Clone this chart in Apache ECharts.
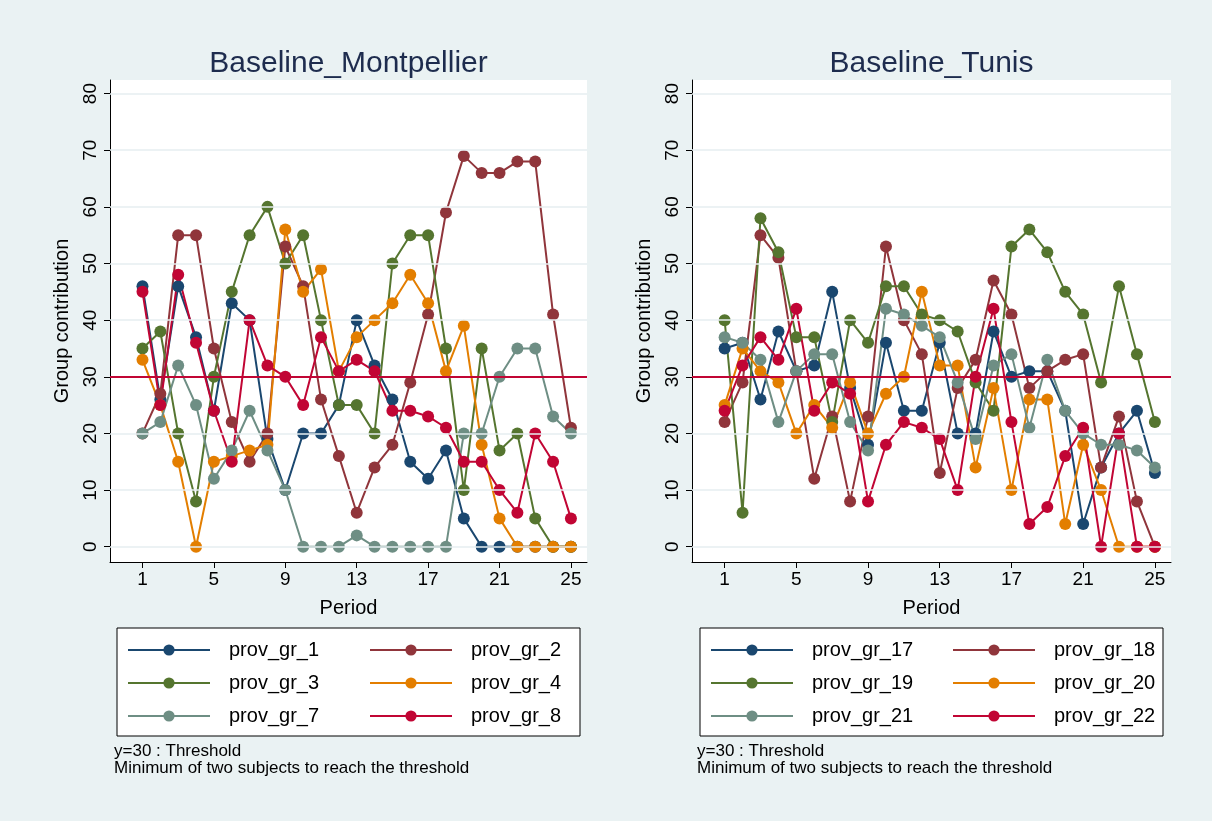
<!DOCTYPE html>
<html>
<head>
<meta charset="utf-8">
<script src="https://cdn.jsdelivr.net/npm/echarts@6/dist/echarts.min.js"></script>
<style>
  html, body { margin: 0; padding: 0; background: #eaf2f3; }
  #chart { width: 1212px; height: 821px; }
</style>
</head>
<body>
<div id="chart"></div>
<script>
// periods and tick marks
const periods = [1, 2, 3, 4, 5, 6, 7, 8, 9, 10, 11, 12, 13, 14, 15, 16, 17, 18, 19, 20, 21, 22, 23, 24, 25]
const xTicks = [1, 5, 9, 13, 17, 21, 25]
const yTicks = [0, 10, 20, 30, 40, 50, 60, 70, 80]
const threshold = 30

// Baseline_Montpellier
const montNames = ['prov_gr_1', 'prov_gr_2', 'prov_gr_3', 'prov_gr_4', 'prov_gr_7', 'prov_gr_8']
const gr1 = [46, 26, 46, 37, 24, 43, 40, 19, 10, 20, 20, 25, 40, 32, 26, 15, 12, 17, 5, 0, 0, 0, 0, 0, 0]
const gr2 = [20, 27, 55, 55, 35, 22, 15, 20, 53, 46, 26, 16, 6, 14, 18, 29, 41, 59, 69, 66, 66, 68, 68, 41, 21]
const gr3 = [35, 38, 20, 8, 30, 45, 55, 60, 50, 55, 40, 25, 25, 20, 50, 55, 55, 35, 10, 35, 17, 20, 5, 0, 0]
const gr4 = [33, 25, 15, 0, 15, 16, 17, 18, 56, 45, 49, 31, 37, 40, 43, 48, 43, 31, 39, 18, 5, 0, 0, 0, 0]
const gr7 = [20, 22, 32, 25, 12, 17, 24, 17, 10, 0, 0, 0, 2, 0, 0, 0, 0, 0, 20, 20, 30, 35, 35, 23, 20]
const gr8 = [45, 25, 48, 36, 24, 15, 40, 32, 30, 25, 37, 31, 33, 31, 24, 24, 23, 21, 15, 15, 10, 6, 20, 15, 5]

// Baseline_Tunis
const tunNames = ['prov_gr_17', 'prov_gr_18', 'prov_gr_19', 'prov_gr_20', 'prov_gr_21', 'prov_gr_22']
const gr17 = [35, 36, 26, 38, 31, 32, 45, 28, 18, 36, 24, 24, 36, 20, 20, 38, 30, 31, 31, 24, 4, 14, 20, 24, 13]
const gr18 = [22, 29, 55, 51, 31, 12, 23, 8, 23, 53, 40, 34, 13, 28, 33, 47, 41, 28, 31, 33, 34, 14, 23, 8, 0]
const gr19 = [40, 6, 58, 52, 37, 37, 22, 40, 36, 46, 46, 41, 40, 38, 29, 24, 53, 56, 52, 45, 41, 29, 46, 34, 22]
const gr20 = [25, 35, 31, 29, 20, 25, 21, 29, 20, 27, 30, 45, 32, 32, 14, 28, 10, 26, 26, 4, 18, 10, 0, 0, 0]
const gr21 = [37, 36, 33, 22, 31, 34, 34, 22, 17, 42, 41, 39, 37, 29, 19, 32, 34, 21, 33, 24, 20, 18, 18, 17, 14]
const gr22 = [24, 32, 37, 33, 42, 24, 29, 27, 8, 18, 22, 21, 19, 10, 30, 42, 22, 4, 7, 16, 21, 0, 20, 0, 0]

// stata s2color
const colors = ['#1a476f', '#90353b', '#55752f', '#e37e00', '#6e8e84', '#c10534']
const font = 'Liberation Sans, Arial, sans-serif'

const panels = [
  { title: 'Baseline_Montpellier', names: montNames, data: [gr1, gr2, gr3, gr4, gr7, gr8], left: 110, width: 477, legendLeft: 117 },
  { title: 'Baseline_Tunis', names: tunNames, data: [gr17, gr18, gr19, gr20, gr21, gr22], left: 692, width: 479, legendLeft: 700 }
]

const pair = arr => periods.map((p, k) => [p, arr[k]])

const option = {
  animation: false,
  backgroundColor: '#eaf2f3',
  color: colors,
  title: [],
  legend: [],
  grid: [],
  xAxis: [],
  yAxis: [],
  series: [],
  graphic: []
}

panels.forEach((p, i) => {
  option.title.push({
    text: p.title,
    left: p.left + p.width / 2 - 5,
    top: 44,
    textAlign: 'center',
    textStyle: { fontFamily: font, fontSize: 30, fontWeight: 'normal', color: '#1e2c4e' }
  })
  option.grid.push({
    left: p.left, top: 80, width: p.width, height: 482,
    show: true, backgroundColor: '#fff', borderWidth: 0
  })
  option.xAxis.push({
    type: 'value', gridIndex: i, min: -0.82, max: 25.9,
    name: 'Period', nameLocation: 'middle', nameGap: 36,
    nameTextStyle: { fontFamily: font, fontSize: 20, color: '#000' },
    axisLine: { show: true, onZero: false, lineStyle: { color: '#000', width: 1 } },
    axisTick: { show: true, length: 6, customValues: xTicks, lineStyle: { color: '#000' } },
    axisLabel: { customValues: xTicks, fontFamily: font, fontSize: 19, color: '#000', margin: 8 },
    splitLine: { show: false }
  })
  option.yAxis.push({
    type: 'value', gridIndex: i, min: -2.7, max: 82.4,
    name: 'Group contribution', nameLocation: 'middle', nameGap: 38, nameRotate: 90,
    nameTextStyle: { fontFamily: font, fontSize: 20, color: '#000' },
    axisLine: { show: true, onZero: false, lineStyle: { color: '#000', width: 1 } },
    axisTick: { show: true, length: 6, customValues: yTicks, lineStyle: { color: '#000' } },
    axisLabel: { customValues: yTicks, rotate: 90, fontFamily: font, fontSize: 19, color: '#000', margin: 10 },
    splitLine: { show: false }
  })
  // gridlines and threshold
  option.series.push({
    type: 'line', xAxisIndex: i, yAxisIndex: i, data: [], silent: true, z: 1,
    markLine: {
      silent: true, symbol: 'none', label: { show: false }, animation: false,
      data: yTicks.map(v => ({ yAxis: v, lineStyle: { color: '#e6eef0', width: 1.5, type: 'solid' } }))
        .concat([{ yAxis: threshold, lineStyle: { color: '#c10534', width: 2, type: 'solid' } }])
    }
  })
  p.names.forEach((name, k) => {
    option.series.push({
      name: name, type: 'line', xAxisIndex: i, yAxisIndex: i, z: 3,
      data: pair(p.data[k]),
      symbol: 'circle', symbolSize: 12,
      color: colors[k],
      lineStyle: { width: 2, color: colors[k] },
      itemStyle: { color: colors[k] }
    })
  })
  // legend box
  option.graphic.push({
    type: 'rect', z: 0,
    shape: { x: p.legendLeft, y: 628, width: 463, height: 108 },
    style: { fill: '#fff', stroke: '#000', lineWidth: 1 }
  })
  ;[0, 1].forEach(c => {
    option.legend.push({
      orient: 'vertical',
      left: p.legendLeft + 5 + c * 242,
      top: 635,
      itemWidth: 82, itemHeight: 14, itemGap: 13,
      data: [p.names[c], p.names[c + 2], p.names[c + 4]],
      textStyle: { fontFamily: font, fontSize: 20, color: '#000', padding: [0, 0, 0, 14] }
    })
  })
  option.graphic.push({
    type: 'text', left: p.legendLeft - 3, top: 743,
    style: {
      text: 'y=30 : Threshold\nMinimum of two subjects to reach the threshold',
      font: '17px ' + font, fill: '#000', lineHeight: 17
    }
  })
})

const chart = echarts.init(document.getElementById('chart'))
chart.setOption(option)
</script>
</body>
</html>
